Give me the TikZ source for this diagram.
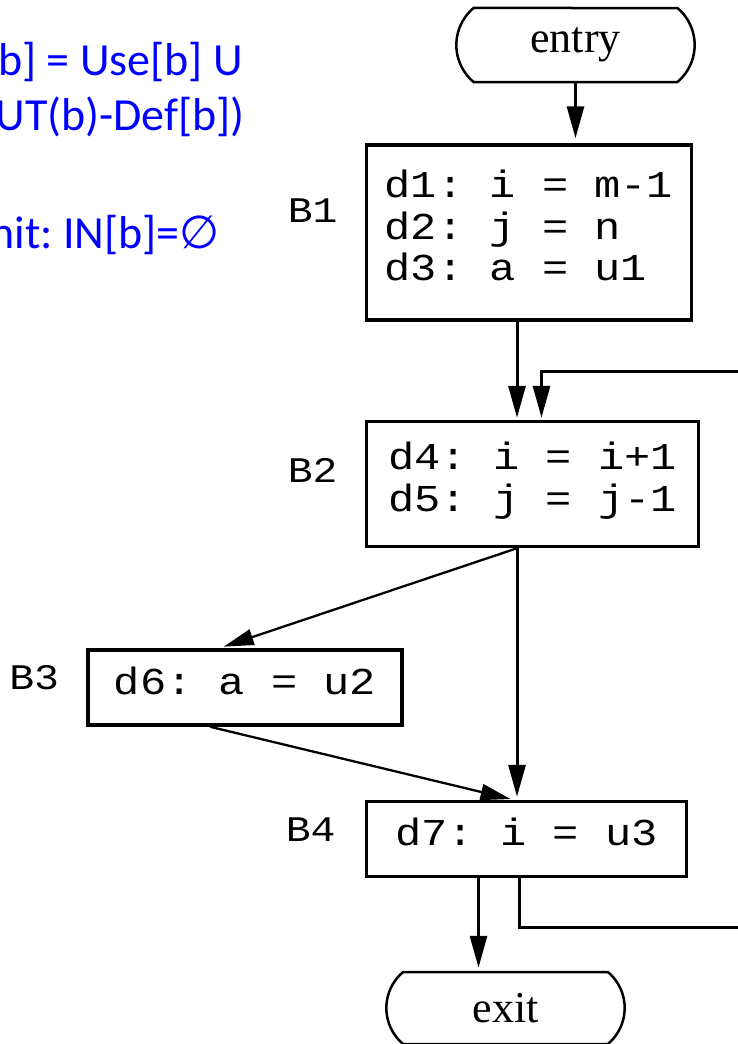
\documentclass[tikz,border=0pt]{standalone}
\usepackage{fontspec}
\usepackage{xcolor}
\usetikzlibrary{positioning,arrows.meta,shapes.misc}
\setmainfont{Liberation Serif}
\newfontfamily\codefont{Liberation Mono}[FakeStretch=1.15]
\newfontfamily\notefont{Carlito}
\newfontfamily\symbfont{DejaVu Sans}
\definecolor{noteblue}{RGB}{0,0,255}
\frenchspacing

\begin{document}
\begin{tikzpicture}[x=1pt,y=-1pt,
                block/.style={draw, line width=3.5pt, align=left, inner sep=0pt,
                  text depth=14pt, font=\codefont\fontsize{38}{41.7}\selectfont},
                term/.style={draw, line width=2.5pt, rounded rectangle,
                  rounded rectangle arc length=100, minimum width=245pt,
                  font=\fontsize{44}{48}\selectfont},
                blklabel/.style={inner sep=0pt, font=\codefont\fontsize{36}{40}\selectfont},
                note/.style={inner sep=0pt, text=noteblue, font=\notefont\fontsize{46}{52}\selectfont},
                flow/.style={line width=3pt, -{Triangle[length=32pt,width=17pt]}},
                slant/.style={line width=2.3pt, -{Triangle[length=30pt,width=16pt]}}
                ]
                \useasboundingbox (0,0) rectangle (738,1044);
                \clip (0,0) rectangle (738,1044);

                % the equations at the top left
                \node [note, anchor=base east] (n1) at (243,75) {b] = Use[b] U};
                \node [note, anchor=base east] (n2) at (245,130) {UT(b)-Def[b])};
                \node [note, anchor=base east] (n3) at (220,248) {nit: IN[b]={\symbfont ∅}};

                % flow graph
                \node [term, minimum height=74pt] (entry) at (575.5,45) {entry};
                \node [block, minimum width=325pt, minimum height=175pt] (b1) at (529,232.5)
                      {d1: i = m-1\\d2: j = n\\d3: a = u1};
                \node [block, minimum width=332pt, minimum height=125pt] (b2) at (532.5,484)
                      {d4: i = i+1\\d5: j = j-1};
                \node [block, minimum width=314pt, minimum height=75pt] (b3) at (245,687.5)
                      {d6: a = u2};
                \node [block, minimum width=320pt, minimum height=75pt] (b4) at (526.5,839)
                      {d7: i = u3};
                \node [term, minimum height=72pt] (exit) at (505.5,1008) {exit};

                \node [blklabel, left=27pt of b1, yshift=22pt] (l1) {B1};
                \node [blklabel, left=27pt of b2, yshift=14pt] (l2) {B2};
                \node [blklabel, left=27pt of b3, yshift=10pt] (l3) {B3};
                \node [blklabel, left=29pt of b4, yshift=9pt] (l4) {B4};

                \coordinate (spine) at (517,0);
                \coordinate (outx) at (478.5,0);
                \coordinate (back) at (760,927);
                \coordinate (top) at (541.5,371.5);

                \draw [flow, shorten >=5pt] (entry.south -| entry) -- (b1.north -| entry);
                \draw [flow, shorten >=2pt] (b1.south -| spine) -- (b2.north -| spine);
                \draw [flow, shorten >=2pt] ([xshift=2pt]b4.south -| spine) |- (back) |- (top)
                      -- (top |- b2.north);
                \draw [slant, shorten >=5pt] (b2.south -| spine) -- ([xshift=-26pt]b3.north);
                \draw [flow, shorten >=3pt] (b2.south -| spine) -- (b4.north -| spine);
                \draw [slant, shorten >=3pt] ([xshift=-35pt]b3.south) -- ([xshift=-13pt]b4.north);
                \draw [flow, shorten >=3pt] (b4.south -| outx) -- (exit.north -| outx);
\end{tikzpicture}
\end{document}
